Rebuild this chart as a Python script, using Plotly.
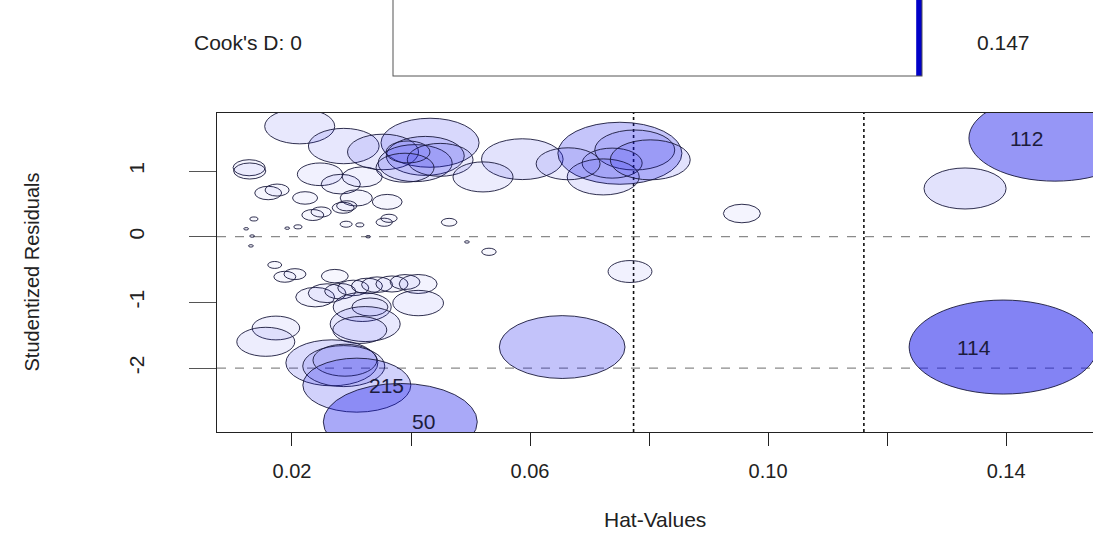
import numpy as np
import plotly.graph_objects as go

# ---------------- data ----------------
hat_values = [
    0.0213, 0.0287, 0.0128, 0.0129, 0.0247, 0.0282, 0.0318, 0.0160, 0.0175, 0.0222,
    0.0308, 0.0360, 0.0235, 0.0249, 0.0286, 0.0292, 0.0291, 0.0314, 0.0355, 0.0363,
    0.0136, 0.0123, 0.0192, 0.0210, 0.0133, 0.0131, 0.0328, 0.0464, 0.0494, 0.0531,
    0.0768, 0.0956, 0.1331, 0.1482, 0.1395,
    0.0432, 0.0353, 0.0424, 0.0407, 0.0449, 0.0395, 0.0390, 0.0587, 0.0521,
    0.0751, 0.0776, 0.0738, 0.0723, 0.0664, 0.0802,
    0.0171, 0.0188, 0.0205, 0.0272, 0.0239, 0.0259, 0.0281, 0.0303, 0.0326, 0.0343,
    0.0368, 0.0390, 0.0412, 0.0412, 0.0318, 0.0331, 0.0323, 0.0314, 0.0173, 0.0156,
    0.0267, 0.0287, 0.0289, 0.0309, 0.0382, 0.0654,
]
studentized_residuals = [
    1.68, 1.38, 1.05, 1.00, 0.95, 0.80, 0.91, 0.665, 0.71, 0.59,
    0.59, 0.53, 0.33, 0.376, 0.44, 0.47, 0.19, 0.18, 0.22, 0.28,
    0.27, 0.12, 0.13, 0.15, 0.01, -0.14, 0.00, 0.22, -0.08, -0.23,
    -0.53, 0.353, 0.734, 1.50, -1.68,
    1.43, 1.29, 1.23, 1.12, 1.17, 1.29, 1.05, 1.18, 0.91,
    1.27, 1.32, 1.12, 0.91, 1.11, 1.17,
    -0.43, -0.61, -0.57, -0.60, -0.92, -0.86, -0.83, -0.78, -0.75, -0.73,
    -0.72, -0.69, -0.72, -1.01, -1.07, -1.07, -1.33, -1.42, -1.39, -1.60,
    -1.92, -1.97, -1.88, -2.26, -2.82, -1.68,
]
cooks_d = [
    0.0204, 0.0208, 0.0043, 0.0043, 0.0085, 0.0064, 0.0067, 0.0030, 0.0024, 0.0026,
    0.0043, 0.0037, 0.0020, 0.0017, 0.0020, 0.0017, 0.0006, 0.00027, 0.0011, 0.0011,
    0.00027, 0.00007, 0.00007, 0.00027, 0.00007, 0.00007, 0.00007, 0.0010, 0.00007, 0.00086,
    0.0080, 0.0057, 0.0280, 0.1230, 0.1470,
    0.0400, 0.0210, 0.0253, 0.0228, 0.0180, 0.0080, 0.0140, 0.0277, 0.0150,
    0.0640, 0.0266, 0.0150, 0.0216, 0.0170, 0.0266,
    0.0008, 0.0020, 0.0020, 0.0030, 0.0063, 0.0059, 0.0040, 0.0040, 0.0040, 0.0040,
    0.0043, 0.0037, 0.0060, 0.0107, 0.0140, 0.0054, 0.0204, 0.0121, 0.0094, 0.0140,
    0.0352, 0.0280, 0.0170, 0.0485, 0.0986, 0.0657,
]
point_labels = [""] * len(hat_values)
point_labels[33] = "112"
point_labels[34] = "114"
point_labels[73] = "215"
point_labels[74] = "50"

cooks_d_max = 0.147
mean_hat = 0.0387
hat_cutoffs = [2 * mean_hat, 3 * mean_hat]
resid_refs = [0, -2]

x_tick_vals = [0.02, 0.04, 0.06, 0.08, 0.10, 0.12, 0.14]
x_tick_text = ["0.02", "", "0.06", "", "0.10", "", "0.14"]
y_tick_vals = [-2, -1, 0, 1]
y_tick_text = ["-2", "-1", "0", "1"]

# ---------------- layout geometry ----------------
W, H = 1093, 534
ML, MR, MT, MB = 217, 0, 113, 102
x_range = [0.0074, 0.1546]
y_range = [-2.973, 1.883]
plot_w = W - ML - MR
plot_h = H - MT - MB
px_per_x = plot_w / (x_range[1] - x_range[0])
px_per_y = plot_h / (y_range[1] - y_range[0])

R_MAX_PX = 47.0      # vertical radius (px) of the largest bubble
STRETCH = 2.0        # horizontal / vertical radius ratio
FONT = "Liberation Sans, Arial, sans-serif"
TXT = "#222222"

fig = go.Figure()

shapes = []
# reference lines
for v in hat_cutoffs:
    shapes.append(dict(type="line", xref="x", yref="paper", x0=v, x1=v, y0=0, y1=1,
                       line=dict(color="#111111", width=1.6, dash="dot"), layer="above"))
for h in resid_refs:
    shapes.append(dict(type="line", xref="paper", yref="y", x0=0, x1=1, y0=h, y1=h,
                       line=dict(color="#8a8a8a", width=1.3, dash="dash"), layer="above"))

# bubbles (area proportional to Cook's D)
for hx, ry_v, d in zip(hat_values, studentized_residuals, cooks_d):
    frac = d / cooks_d_max
    r_px = max(R_MAX_PX * np.sqrt(frac), 1.2)
    rx = STRETCH * r_px / px_per_x
    ry = r_px / px_per_y
    alpha = 0.03 + 0.5 * frac
    shapes.append(dict(type="circle", xref="x", yref="y",
                       x0=hx - rx, x1=hx + rx, y0=ry_v - ry, y1=ry_v + ry,
                       fillcolor=f"rgba(20,20,235,{alpha:.3f})",
                       line=dict(color="rgba(25,25,60,0.9)", width=1), layer="above"))

bar_scale = [[0, "#ffffff"], [0.988, "#ffffff"], [0.99, "#0000c8"], [1, "#0000c8"]]
fig.add_trace(go.Scatter(
    x=hat_values, y=studentized_residuals, mode="markers",
    text=point_labels,
    marker=dict(size=6, opacity=0, color=cooks_d, cmin=0, cmax=cooks_d_max,
                colorscale=bar_scale, showscale=True,
                colorbar=dict(orientation="h", xanchor="left", x=(393 - ML) / plot_w,
                              lenmode="pixels", len=529,
                              yanchor="bottom", y=(MT + plot_h - 77) / plot_h,
                              thickness=95, xpad=0, ypad=0,
                              outlinewidth=1, outlinecolor="#555555",
                              showticklabels=False, ticks="")),
    hovertemplate="hat=%{x}<br>rstudent=%{y}<extra></extra>",
    showlegend=False,
))

annotations = []
x_mid = (min(hat_values) + max(hat_values)) / 2
for hx, ry_v, lab in zip(hat_values, studentized_residuals, point_labels):
    if not lab:
        continue
    right = hx > x_mid
    annotations.append(dict(x=hx, y=ry_v, xref="x", yref="y", text=lab, showarrow=False,
                            xanchor="right" if right else "left", yanchor="middle",
                            xshift=-10 if right else 10,
                            font=dict(family=FONT, size=21, color="#1c1c3c")))

annotations.append(dict(x=(248 - ML) / plot_w, y=(MT + plot_h - 42) / plot_h,
                        xref="paper", yref="paper", text="Cook's D: 0", showarrow=False,
                        xanchor="center", yanchor="middle",
                        font=dict(family=FONT, size=21, color=TXT)))
annotations.append(dict(x=(1003 - ML) / plot_w, y=(MT + plot_h - 42) / plot_h,
                        xref="paper", yref="paper", text="0.147", showarrow=False,
                        xanchor="center", yanchor="middle",
                        font=dict(family=FONT, size=21, color=TXT)))
# axis titles
annotations.append(dict(x=0.5, y=(MT + plot_h - 519) / plot_h, xref="paper", yref="paper",
                        text="Hat-Values", showarrow=False, xanchor="center", yanchor="middle",
                        font=dict(family=FONT, size=21, color=TXT)))
annotations.append(dict(x=(31 - ML) / plot_w, y=0.5, xref="paper", yref="paper",
                        text="Studentized Residuals", showarrow=False, textangle=-90,
                        xanchor="center", yanchor="middle",
                        font=dict(family=FONT, size=20, color=TXT)))

fig.update_layout(
    width=W, height=H,
    margin=dict(l=ML, r=MR, t=MT, b=MB, autoexpand=False),
    paper_bgcolor="white", plot_bgcolor="white",
    shapes=shapes, annotations=annotations,
    font=dict(family=FONT, size=20, color=TXT),
    xaxis=dict(range=x_range, showgrid=False, zeroline=False,
               showline=True, linecolor="#222222", linewidth=1.3, mirror=True,
               ticks="outside", ticklen=13, tickwidth=1.3, tickcolor="#222222",
               tickvals=x_tick_vals, ticktext=x_tick_text,
               tickfont=dict(family=FONT, size=20, color=TXT),
               ticklabelstandoff=8),
    yaxis=dict(range=y_range, showgrid=False, zeroline=False,
               showline=True, linecolor="#222222", linewidth=1.3, mirror=False,
               ticks="outside", ticklen=27, tickwidth=1.3, tickcolor="#555555",
               tickvals=y_tick_vals, ticktext=y_tick_text, tickangle=-90,
               tickfont=dict(family=FONT, size=21, color=TXT),
               ticklabelstandoff=36),
)

fig.write_html("out.html")
